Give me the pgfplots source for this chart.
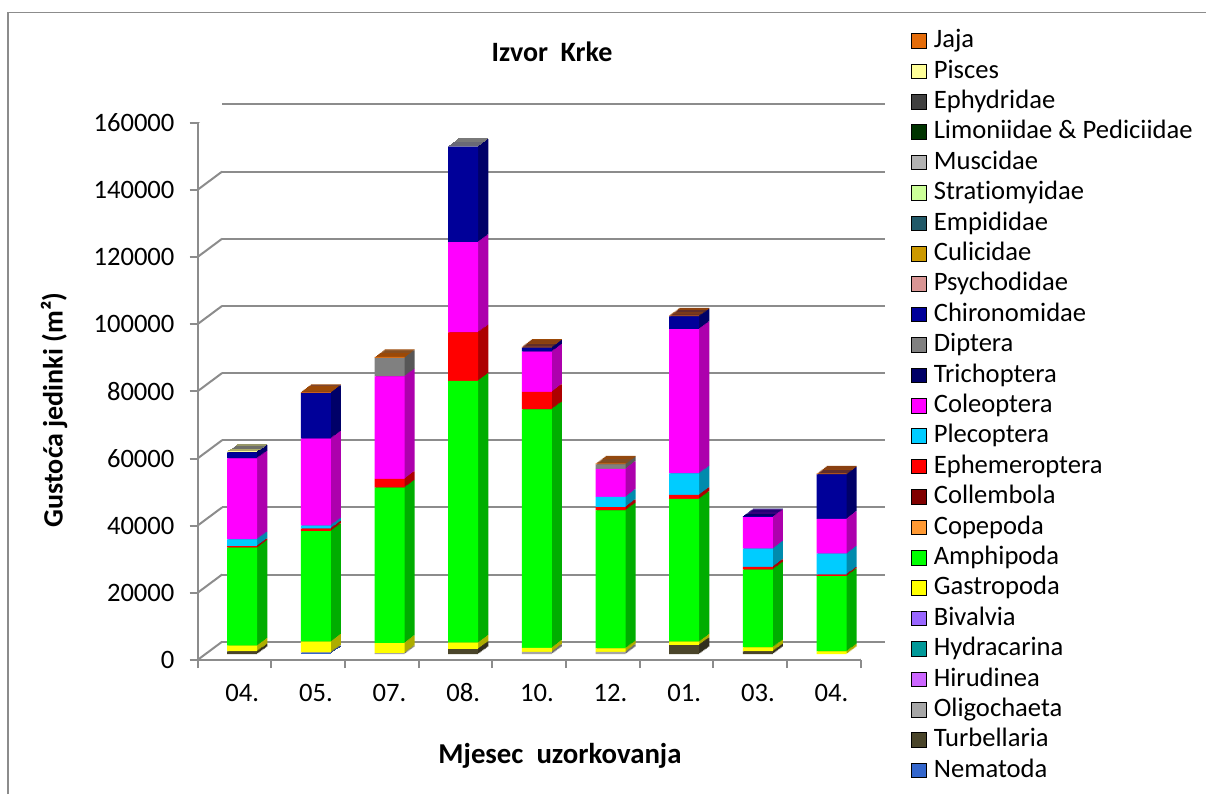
\documentclass[border=0pt]{standalone}
\usepackage{fontspec}
\setmainfont{Carlito}[Ligatures=NoCommon]
\usepackage{pgfplots}
\pgfplotsset{compat=1.18}
\usepackage{pgfplotstable}

\definecolor{cJaj}{HTML}{E46C0A}
\definecolor{cPis}{HTML}{FFFF99}
\definecolor{cEphy}{HTML}{404040}
\definecolor{cLim}{HTML}{003300}
\definecolor{cMus}{HTML}{B2B2B2}
\definecolor{cStr}{HTML}{CCFF99}
\definecolor{cEmp}{HTML}{215968}
\definecolor{cCul}{HTML}{CC9900}
\definecolor{cPsy}{HTML}{D99594}
\definecolor{cChi}{HTML}{000099}
\definecolor{cDip}{HTML}{808080}
\definecolor{cTri}{HTML}{000066}
\definecolor{cCoe}{HTML}{FF00FF}
\definecolor{cPle}{HTML}{00CCFF}
\definecolor{cEph}{HTML}{FF0000}
\definecolor{cCol}{HTML}{800000}
\definecolor{cCop}{HTML}{FF9933}
\definecolor{cAmp}{HTML}{00FF00}
\definecolor{cGas}{HTML}{FFFF00}
\definecolor{cBiv}{HTML}{9966FF}
\definecolor{cHyd}{HTML}{009999}
\definecolor{cHir}{HTML}{CC66FF}
\definecolor{cOli}{HTML}{A6A6A6}
\definecolor{cTur}{HTML}{4A452A}
\definecolor{cNem}{HTML}{3366CC}
\definecolor{gridgray}{HTML}{8C8C8C}

\pgfplotstableread{
x Nem Tur Oli Hir Hyd Biv Gas Amp Cop Col Eph Ple Coe Tri Dip Chi Psy Cul Emp Str Mus Lim Ephy Pis Jaj
0 0 800 0 0 0 0 1700 29200 0 0 500 2000 24100 0 0 1800 0 0 0 0 0 0 0 300 0
1 300 0 200 0 0 0 3200 32900 0 0 800 900 25900 0 0 13600 0 0 0 0 0 0 0 0 300
2 0 0 300 0 0 0 3000 46300 0 0 2600 0 30500 0 5500 0 0 0 0 0 0 0 0 0 300
3 0 1500 0 0 0 0 1900 78000 0 0 14400 0 26900 0 0 28400 0 0 0 0 300 0 0 0 0
4 0 0 700 0 0 0 1200 71000 0 0 5200 0 12000 0 0 1200 0 0 0 0 0 0 0 0 300
5 0 0 700 0 0 0 1000 41100 0 0 1000 3000 8400 0 1300 0 0 0 0 0 0 0 0 0 300
6 0 2700 0 0 0 0 1000 42500 0 0 1200 6400 43000 0 0 3800 0 0 0 0 0 0 0 0 300
7 0 800 0 0 0 0 1200 23200 0 0 800 5400 9400 0 0 300 0 0 0 0 0 0 0 0 0
8 0 0 0 0 0 0 800 22400 0 0 500 6200 10400 0 0 13200 0 0 0 0 0 0 0 0 300
}\data

\newcommand\allbars[1]{%
  \pgfplotsinvokeforeach{Nem,Tur,Oli,Hir,Hyd,Biv,Gas,Amp,Cop,Col,Eph,Ple,Coe,Tri,Dip,Chi,Psy,Cul,Emp,Str,Mus,Lim,Ephy,Pis,Jaj}{%
    \addplot[fill=c##1!#1!black, draw=none] table[x=x,y=##1]{\data};}}

\pgfplotsset{
  every axis/.append style={font=\fontsize{13.3}{16}\selectfont},
  base/.style={scale only axis, width=331.5pt, height=268.65pt,
    xmin=-0.5, xmax=8.5, ymin=0, ymax=160000, anchor=south west, scaled y ticks=false},
  barcopy/.style={base, hide axis, ybar stacked, bar width=15pt},
}

\begin{document}
\begin{tikzpicture}
\useasboundingbox (0,0) rectangle (603pt,397pt);
\draw[gridgray, line width=0.6pt] (4pt,0pt) -- (4pt,390.6pt) -- (603pt,390.6pt);

% back wall
\begin{axis}[base, at={(111.05pt,76.15pt)},
  axis line style={draw=none}, xtick=\empty,
  ytick={0,20000,40000,60000,80000,100000,120000,140000,160000},
  yticklabels={}, major tick length=0pt,
  ymajorgrids, grid style={gridgray, line width=1pt}]
\end{axis}

% front frame, labels, legend
\begin{axis}[base, at={(98.75pt,67pt)},
  axis x line=bottom, axis y line=left,
  axis line style={-, draw=gridgray, line width=1pt},
  tick align=outside, major tick length=4pt, minor tick length=4pt,
  tick style={gridgray, line width=1pt},
  ytick={0,20000,40000,60000,80000,100000,120000,140000,160000},
  yticklabel style={/pgf/number format/fixed, /pgf/number format/precision=0,
    /pgf/number format/1000 sep=, /pgf/number format/assume math mode=true, xshift=-4pt},
  xtick={0,...,8}, xticklabels={04.,05.,07.,08.,10.,12.,01.,03.,04.},
  major x tick style={draw=none},
  minor xtick={-0.5,0.5,...,8.5},
  xticklabel style={anchor=north, text height=9.3pt, text depth=0pt, xshift=3.94pt, yshift=-4pt},
  title={Izvor\ \ Krke},
  title style={font=\bfseries\fontsize{14}{16}\selectfont, at={(axis description cs:0.5347,1.109)}, anchor=center},
  xlabel={Mjesec\ \ uzorkovanja},
  xlabel style={font=\bfseries\fontsize{14.4}{16}\selectfont, at={(axis description cs:0.5468,-0.179)}, anchor=center},
  ylabel={Gustoća jedinki (m²)},
  ylabel style={font=\bfseries\fontsize{14}{16}\selectfont, at={(axis description cs:-0.2164,0.4653)}, anchor=center},
  legend style={draw=none, fill=none, at={(axis description cs:1.0762,1.1757)}, anchor=north west,
    inner sep=0pt, row sep=3pt, column sep=3.5pt, font=\fontsize{13.3}{16}\selectfont,
    nodes={inner sep=0pt, text height=9.5pt, text depth=2.7pt}},
  legend cell align=left,
  legend image code/.code={\fill[#1] (0pt,-3.65pt) rectangle (7.3pt,3.65pt);},
]
\addlegendimage{fill=cJaj}\addlegendentry{Jaja}
\addlegendimage{fill=cPis}\addlegendentry{Pisces}
\addlegendimage{fill=cEphy}\addlegendentry{Ephydridae}
\addlegendimage{fill=cLim}\addlegendentry{Limoniidae \& Pediciidae}
\addlegendimage{fill=cMus}\addlegendentry{Muscidae}
\addlegendimage{fill=cStr}\addlegendentry{Stratiomyidae}
\addlegendimage{fill=cEmp}\addlegendentry{Empididae}
\addlegendimage{fill=cCul}\addlegendentry{Culicidae}
\addlegendimage{fill=cPsy}\addlegendentry{Psychodidae}
\addlegendimage{fill=cChi}\addlegendentry{Chironomidae}
\addlegendimage{fill=cDip}\addlegendentry{Diptera}
\addlegendimage{fill=cTri}\addlegendentry{Trichoptera}
\addlegendimage{fill=cCoe}\addlegendentry{Coleoptera}
\addlegendimage{fill=cPle}\addlegendentry{Plecoptera}
\addlegendimage{fill=cEph}\addlegendentry{Ephemeroptera}
\addlegendimage{fill=cCol}\addlegendentry{Collembola}
\addlegendimage{fill=cCop}\addlegendentry{Copepoda}
\addlegendimage{fill=cAmp}\addlegendentry{Amphipoda}
\addlegendimage{fill=cGas}\addlegendentry{Gastropoda}
\addlegendimage{fill=cBiv}\addlegendentry{Bivalvia}
\addlegendimage{fill=cHyd}\addlegendentry{Hydracarina}
\addlegendimage{fill=cHir}\addlegendentry{Hirudinea}
\addlegendimage{fill=cOli}\addlegendentry{Oligochaeta}
\addlegendimage{fill=cTur}\addlegendentry{Turbellaria}
\addlegendimage{fill=cNem}\addlegendentry{Nematoda}
\pgfplotsinvokeforeach{0,20000,40000,60000,80000,100000,120000,140000,160000}{%
  \draw[gridgray, line width=1pt] (axis cs:-0.5,#1) -- ++(12.3pt,9.15pt);}
\draw[gridgray, line width=1pt] (axis cs:8.5,0) -- ++(12.3pt,9.15pt);
\end{axis}

% depth copies (side and top faces)
\foreach \k in {8,7,6,5,4,3,2,1}{%
  \pgfmathsetmacro\f{0.32+0.41*\k/8}%
  \begin{axis}[barcopy, at={({98.75pt+12.3pt*\f},{67pt+9.15pt*\f})}]
    \allbars{68}
  \end{axis}
}
% front faces
\begin{axis}[barcopy, at={(102.69pt,69.93pt)}]
  \allbars{100}
\end{axis}
\end{tikzpicture}
\end{document}
